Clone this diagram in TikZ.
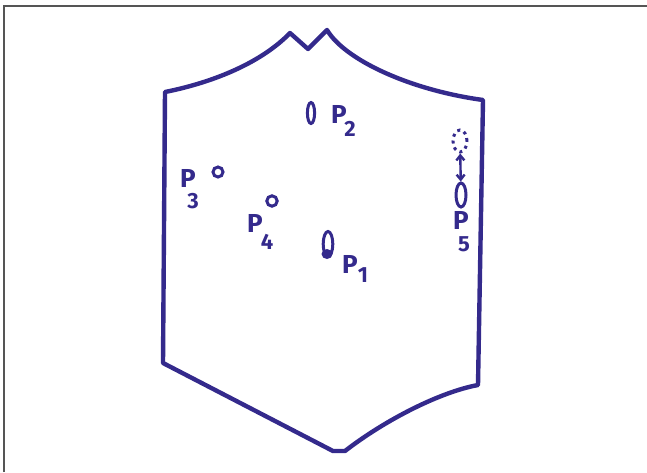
\documentclass[tikz,border=0pt]{standalone}
\usepackage{fontspec}
\setmainfont{Fira Sans}
\usetikzlibrary{shapes.geometric,arrows.meta}
\definecolor{pen}{RGB}{52,42,140}
\definecolor{framegray}{RGB}{85,85,85}
\tikzset{
  outline/.style={draw=pen, line width=2.2pt, line join=round, line cap=round},
  pmark/.style={ellipse, draw=pen, line width=1.5pt, inner sep=0pt},
  lbl/.style={text=pen, font=\fontsize{13}{13}\selectfont\bfseries, inner sep=0pt},
  sub/.style={text=pen, font=\fontsize{11}{11}\selectfont\bfseries, inner sep=0pt},
}
\begin{document}
\begin{tikzpicture}[x=0.5pt,y=-0.5pt]
\useasboundingbox (0,0) rectangle (647,472);
% frame
\draw[framegray, line width=1pt] (4,472) -- (4,6) -- (647,6);
% outline
\draw[outline] (165,92) .. controls (215,82) and (262,62) .. (290,33)
  -- (308,49) -- (327,30)
  .. controls (345,60) and (410,90) .. (483,100)
  -- (478,385)
  .. controls (440,392) and (385,420) .. (345,451)
  -- (333,451) -- (163,363) -- cycle;
% P2
\node[pmark, minimum width=3.6pt, minimum height=10.5pt] (p2) at (311,113) {};
\node[lbl] (p2l) at (339,114) {P};
\node[sub] (p2s) at (350,129) {2};
% P3
\node[pmark, circle, minimum size=5pt] (p3) at (218,172) {};
\node[lbl] (p3l) at (188,178) {P};
\node[sub] (p3s) at (193,201) {3};
% P4
\node[pmark, circle, minimum size=5.2pt] (p4) at (272,201) {};
\node[lbl] (p4l) at (255,223) {P};
\node[sub] (p4s) at (267,242) {4};
% P1
\node[pmark, minimum width=4.8pt, minimum height=12.5pt] (p1) at (328,244) {};
\node[ellipse, fill=pen, minimum width=5.5pt, minimum height=5pt, inner sep=0pt] (p1b) at (327,254) {};
\node[lbl] (p1l) at (350,264) {P};
\node[sub] (p1s) at (363,275) {1};
% P5
\node[pmark, dotted, line width=1.5pt, minimum width=7pt, minimum height=11pt] (p5a) at (460,141) {};
\node[pmark, minimum width=5pt, minimum height=12pt] (p5b) at (461,195) {};
\draw[pen, line width=1.2pt, {Straight Barb[length=2.5pt,width=4pt]}-{Straight Barb[length=2.5pt,width=4pt]}] (p5a) -- (p5b);
\node[lbl] (p5l) at (461,220) {P};
\node[sub] (p5s) at (464,244) {5};
\end{tikzpicture}
\end{document}
